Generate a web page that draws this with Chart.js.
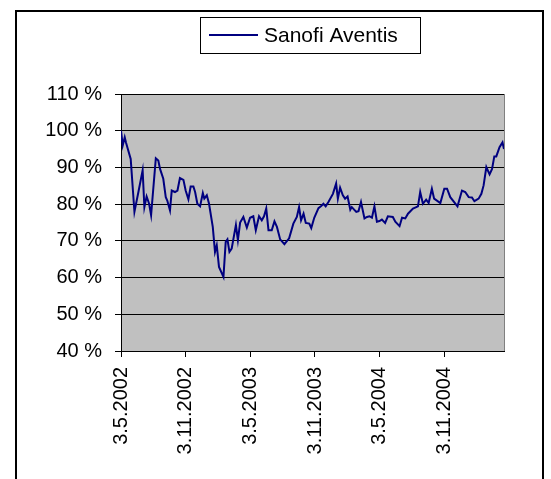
<!DOCTYPE html>
<html>
<head>
<meta charset="utf-8">
<script src="https://cdn.jsdelivr.net/npm/chart.js@4.4.1/dist/chart.umd.min.js"></script>
<style>
  html, body { margin: 0; padding: 0; background: #ffffff; }
  #wrap { position: relative; width: 551px; height: 479px; }
</style>
</head>
<body>
<div id="wrap"><canvas id="chart" width="551" height="479"></canvas></div>
<script>
// Weekly index from 3.5.2002 (26 weeks ~ half a year) and share price relative to start (%)
const weeks = [
  0.0, 0.7, 1.5, 2.0, 3.9, 5.4, 7.0, 8.7, 9.4, 10.3, 11.3, 12.1, 14.0, 15.0, 15.7, 17.0,
  18.0, 18.6, 19.7, 20.4, 21.7, 22.7, 23.7, 25.1, 26.0, 27.1, 28.0, 29.1, 29.8, 30.7, 31.8,
  32.9, 33.5, 34.5, 35.4, 36.9, 37.8, 38.5, 39.4, 41.2, 42.1, 42.8, 43.6, 44.5, 46.2, 47.0,
  47.9, 49.2, 50.6, 51.9, 53.2, 54.2, 55.5, 56.6, 57.5, 58.4, 59.3, 60.6, 61.7, 62.7, 64.0,
  65.7, 67.6, 69.3, 70.7, 71.6, 72.4, 73.4, 74.3, 75.7, 76.5, 77.7, 79.4, 80.5, 81.4, 82.3,
  83.4, 85.2, 86.5, 87.2, 88.1, 89.2, 90.1, 91.1, 92.2, 92.8, 94.6, 95.5, 96.5, 97.9, 98.9,
  99.9, 100.9, 101.9, 102.9, 103.9, 104.9, 106.2, 107.3, 109.3, 110.3, 112.0, 113.0, 114.3,
  115.4, 117.4, 119.4, 120.3, 121.4, 122.7, 123.7, 125.0, 125.9, 128.4, 130.0, 131.1, 132.4,
  135.3, 137.1, 138.4, 139.8, 141.1, 142.1, 143.8, 144.9, 145.8, 146.9, 148.2, 149.2, 150.1,
  150.9, 152.2, 153.4, 154.0
];
const sanofi = [
  100, 96, 98.2, 96.8, 92.3, 77.9, 83.3, 89.2, 79.2, 82.1, 80.1, 77, 92.5, 91.9, 89.6, 86.9,
  81.9, 81, 78.3, 83.7, 83.3, 83.7, 87.1, 86.6, 83.7, 81.3, 84.8, 84.8, 83.3, 80.1, 79.4,
  83, 81.5, 82.4, 80.1, 73.8, 67, 68.8, 62.9, 60.2, 69.7, 70.4, 67, 67.9, 74.3, 70.2,
  75, 76.5, 73.6, 76.3, 76.7, 72.9, 76.7, 75.6, 76.7, 78.8, 72.9, 72.9, 75.3, 73.8, 70.4,
  69.1, 70.7, 74.7, 76.5, 79.2, 75.6, 77.4, 74.9, 74.7, 73.5, 76.3, 78.9, 79.5, 80.1, 79.4,
  80.6, 82.8, 85.6, 81.5, 84.5, 82.4, 81.5, 82.1, 78.5, 79.2, 77.9, 78.1, 80.6, 76.1, 76.5,
  76.7, 76.3, 79.4, 75.2, 75.4, 75.8, 74.9, 76.7, 76.5, 75.2, 74, 76.3, 76.1,
  77.4, 78.8, 79.4, 83.3, 80.1, 81.2, 80.3, 84.2, 81.5, 80.3, 84.2, 84.2, 81.9,
  79.4, 83.7, 83.3, 81.9, 81.8, 80.8, 81.5, 82.8, 85.1, 90.1, 88.1, 89.6, 93,
  93, 95.5, 96.8, 95
];
const tickLabels = ['3.5.2002', '3.11.2002', '3.5.2003', '3.11.2003', '3.5.2004', '3.11.2004'];
const weeksPerTick = 26;
const seriesName = 'Sanofi Aventis';

const fontFamily = "'Liberation Sans', Arial, sans-serif";

// Gray plot area, frame, legend box
const excelLook = {
    id: 'excelLook',
    beforeDraw(chart) {
        const ctx = chart.ctx;
        const a = chart.chartArea;
        ctx.save();
        ctx.fillStyle = '#ffffff';
        ctx.fillRect(0, 0, chart.width, chart.height);
        ctx.fillStyle = '#c0c0c0';
        ctx.fillRect(a.left, a.top, a.right - a.left, a.bottom - a.top);
        ctx.strokeStyle = '#808080';
        ctx.lineWidth = 1;
        ctx.strokeRect(a.left + 0.5, a.top + 0.5, a.right - a.left, a.bottom - a.top);
        ctx.restore();
    },
    afterDraw(chart) {
        const ctx = chart.ctx;
        ctx.save();
        // outer chart frame
        ctx.strokeStyle = '#000000';
        ctx.lineWidth = 2;
        ctx.strokeRect(16, 11, 527, 520);
        // legend
        ctx.fillStyle = '#ffffff';
        ctx.fillRect(200, 17, 221, 37);
        ctx.lineWidth = 1;
        ctx.strokeStyle = '#000000';
        ctx.strokeRect(200.5, 17.5, 220, 36);
        ctx.strokeStyle = '#000080';
        ctx.lineWidth = 2;
        ctx.beginPath();
        ctx.moveTo(209, 35);
        ctx.lineTo(258, 35);
        ctx.stroke();
        ctx.fillStyle = '#000000';
        ctx.font = '21px ' + fontFamily;
        ctx.textBaseline = 'middle';
        ctx.fillText(seriesName, 264, 36);
        ctx.restore();
    }
};

const ctx = document.getElementById('chart').getContext('2d');
new Chart(ctx, {
    type: 'line',
    data: {
        datasets: [{
            label: seriesName,
            data: weeks.map((w, i) => ({ x: w, y: sanofi[i] })),
            borderColor: '#000080',
            borderWidth: 2,
            pointRadius: 0,
            tension: 0,
            fill: false
        }]
    },
    options: {
        responsive: false,
        animation: false,
        layout: { padding: { top: 94, right: 47, left: 0, bottom: 0 } },
        plugins: {
            legend: { display: false },
            tooltip: { enabled: false }
        },
        scales: {
            x: {
                type: 'linear',
                min: 0,
                max: 154,
                afterBuildTicks: scale => {
                    scale.ticks = tickLabels.map((_, i) => ({ value: i * weeksPerTick }));
                },
                afterFit: scale => { scale.height = 128; },
                grid: {
                    drawOnChartArea: false,
                    drawTicks: true,
                    tickLength: 6,
                    color: '#000000'
                },
                border: { display: true, color: '#000000', width: 1 },
                ticks: {
                    autoSkip: false,
                    minRotation: 90,
                    maxRotation: 90,
                    padding: 10,
                    color: '#000000',
                    font: { family: fontFamily, size: 20 },
                    callback: value => tickLabels[Math.round(value / weeksPerTick)] || ''
                }
            },
            y: {
                min: 40,
                max: 110,
                afterFit: scale => { scale.width = 121; },
                grid: {
                    color: '#000000',
                    lineWidth: 1,
                    drawTicks: true,
                    tickLength: 6
                },
                border: { display: true, color: '#000000', width: 1 },
                ticks: {
                    stepSize: 10,
                    padding: 13,
                    color: '#000000',
                    font: { family: fontFamily, size: 20 },
                    callback: value => value + ' %'
                }
            }
        }
    },
    plugins: [excelLook]
});
</script>
</body>
</html>
